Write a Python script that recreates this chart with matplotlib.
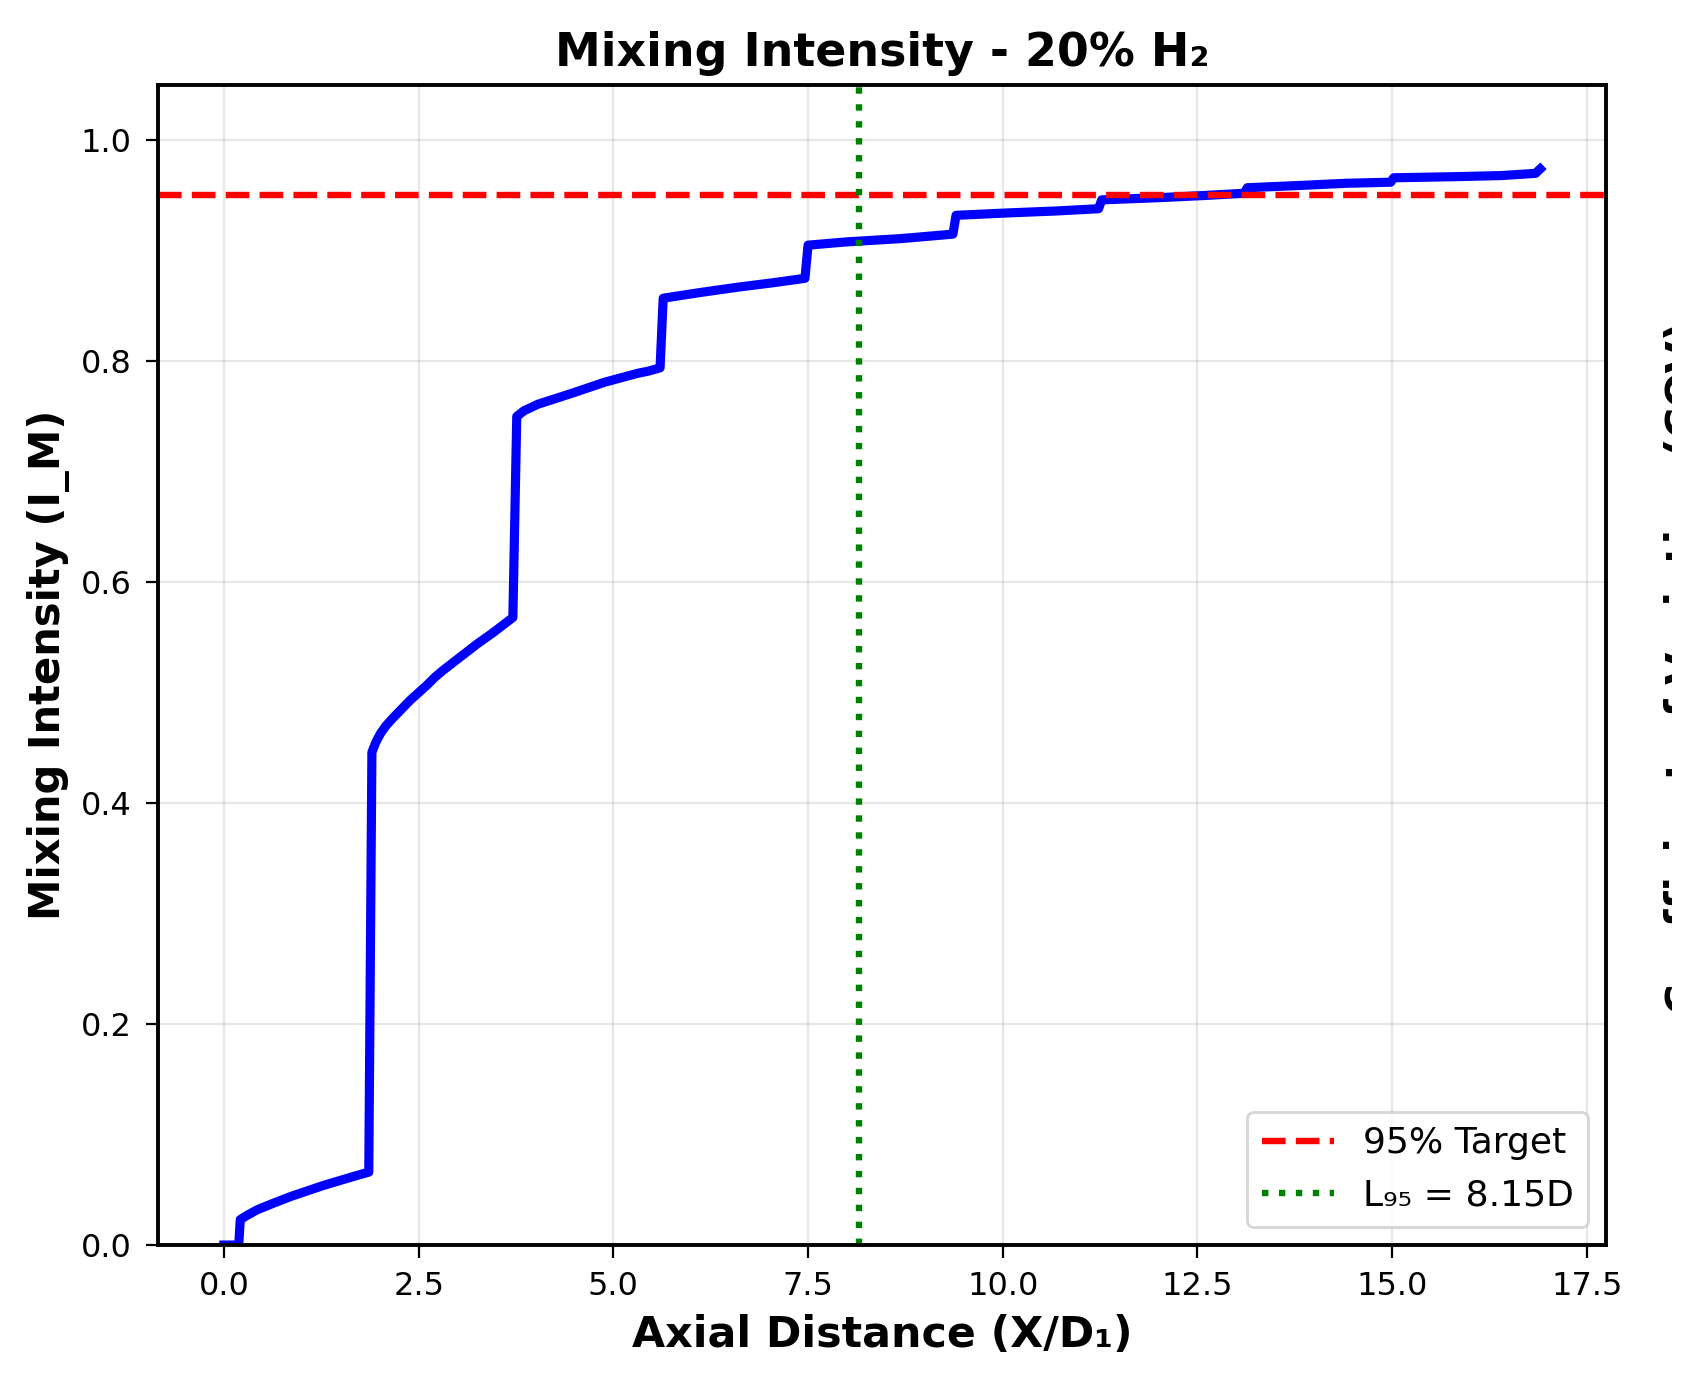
import matplotlib
matplotlib.use("Agg")
import matplotlib.pyplot as plt
from matplotlib.patches import Rectangle

# ===== DATA =====
axial_x = [0.0, 0.19, 0.21, 0.30, 0.43, 0.64, 0.86, 1.07, 1.28, 1.47, 1.66, 1.86,
           1.90, 1.95, 2.01, 2.08, 2.17, 2.28, 2.39, 2.50, 2.61, 2.71, 2.81, 2.92,
           3.03, 3.14, 3.25, 3.35, 3.45, 3.58, 3.71,
           3.76, 3.85, 3.94, 4.03, 4.25, 4.47, 4.68, 4.89, 5.10, 5.31, 5.45, 5.60,
           5.64, 6.10, 6.60, 7.05, 7.46,
           7.50, 8.00, 8.70, 9.36,
           9.40, 10.0, 10.7, 11.23,
           11.27, 12.0, 12.6, 13.10,
           13.14, 13.8, 14.4, 14.98,
           15.02, 15.8, 16.40, 16.84, 16.90]
mixing_im = [0.000, 0.000, 0.023, 0.027, 0.032, 0.038, 0.044, 0.049, 0.054, 0.058, 0.062, 0.066,
             0.446, 0.455, 0.463, 0.470, 0.477, 0.485, 0.493, 0.500, 0.507, 0.514, 0.520, 0.526,
             0.532, 0.538, 0.544, 0.549, 0.554, 0.561, 0.568,
             0.750, 0.755, 0.758, 0.761, 0.766, 0.771, 0.776, 0.781, 0.785, 0.789, 0.791, 0.794,
             0.857, 0.862, 0.867, 0.871, 0.875,
             0.905, 0.908, 0.911, 0.915,
             0.932, 0.934, 0.936, 0.938,
             0.946, 0.948, 0.950, 0.952,
             0.957, 0.959, 0.961, 0.962,
             0.966, 0.967, 0.968, 0.970, 0.974]
TARGET = 0.95
L95 = 8.15

# ===== PLOT =====
fig = plt.figure(figsize=(8.5, 6.92), dpi=200)
ax = fig.add_axes([0.093, 0.1004, 0.8517, 0.8382])

ax.plot(axial_x, mixing_im, color="blue", lw=3.3)
ax.axhline(TARGET, color="red", ls="--", lw=2.3, label="95% Target")
ax.axvline(L95, color="green", ls=":", lw=2.3, label=f"L\u2089\u2085 = {L95:.2f}D")

ax.set_ylim(0, 1.05)
ax.set_title("Mixing Intensity - 20% H\u2082", fontsize=16.5, fontweight="bold", pad=7)
ax.set_xlabel("Axial Distance (X/D\u2081)", fontsize=15.4, fontweight="bold", labelpad=4)
ax.set_ylabel("Mixing Intensity (I_M)", fontsize=15, fontweight="bold")
ax.tick_params(labelsize=11.5, pad=5, length=4.5)
for sp in ax.spines.values():
    sp.set_linewidth(1.4)
ax.grid(True, alpha=0.3)
ax.legend(loc="lower right", fontsize=13)

# neighbouring panel's y label, cut off at the right edge like the source image
side = fig.text(0.979, 0.518, "Coefficient of Variation (COV)", rotation=90,
                ha="left", va="center", fontsize=15, fontweight="bold")
side.set_clip_path(Rectangle((0, 0), 1672 / 1700, 1, transform=fig.transFigure))

fig.savefig("out.png", dpi=200)
